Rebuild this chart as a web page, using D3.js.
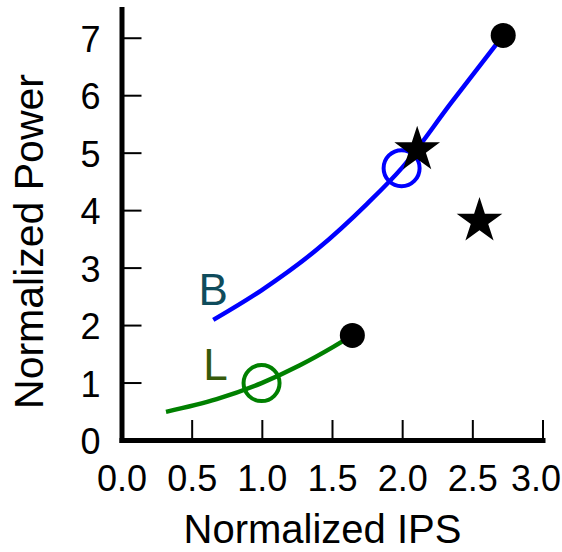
<!DOCTYPE html>
<meta charset="utf-8">
<style>
    body { margin: 0; background: #fff; }
    text { font-family: "Liberation Sans", Arial, Helvetica, sans-serif; }
    .axis .domain { stroke: #000; stroke-width: 5; stroke-linecap: square; }
    .axis .tick line { stroke: #000; stroke-width: 2; }
    .axis .tick text { font-size: 36px; fill: #000; }
</style>
<svg width="562" height="552"></svg>
<script src="https://cdnjs.cloudflare.com/ajax/libs/d3/7.8.5/d3.min.js"></script>
<script>

    // big core curve (B)
    var bigIPS = [0.654, 1.0, 1.39, 1.75, 2.0, 2.35, 2.72];
    var bigPower = [2.09, 2.61, 3.31, 4.11, 4.74, 5.87, 7.04];

    // little core curve (L)
    var littleIPS = [0.317, 0.678, 0.998, 1.271, 1.509, 1.645];
    var littlePower = [0.49, 0.71, 0.99, 1.30, 1.62, 1.82];

    // markers
    var openIPS = [1.996, 0.998];
    var openPower = [4.73, 0.99];
    var openColor = ["#0000ff", "#008000"];

    var dotIPS = [2.72, 1.645];
    var dotPower = [7.04, 1.82];

    var starIPS = [2.107, 2.551];
    var starPower = [5.05, 3.81];

    var labelText = ["B", "L"];
    var labelIPS = [0.548, 0.583];
    var labelPower = [2.35, 1.045];
    var labelColor = ["#0f4c5c", "#365a0a"];

    var xTicks = [0, 0.5, 1, 1.5, 2, 2.5, 3];
    var yTicks = [0, 1, 2, 3, 4, 5, 6, 7];

    var svg = d3.select("svg");

    var x = d3.scaleLinear()
        .domain([0, 3])
        .range([121.5, 542.5]);

    var y = d3.scaleLinear()
        .domain([0, 7.5])
        .range([440, 9]);

    svg.append("g")
        .attr("class", "axis")
        .attr("transform", "translate(0,440)")
        .call(d3.axisBottom(x)
            .tickValues(xTicks)
            .tickFormat(d3.format(".1f"))
            .tickSizeInner(-20)
            .tickSizeOuter(0)
            .tickPadding(25))
        .selectAll(".tick text")
        .attr("dx", function (d) { return d === 3 ? -7 : 0; });

    svg.append("g")
        .attr("class", "axis")
        .attr("transform", "translate(121.5,0)")
        .call(d3.axisLeft(y)
            .tickValues(yTicks)
            .tickFormat(d3.format("d"))
            .tickSizeInner(-20)
            .tickSizeOuter(0)
            .tickPadding(21))
        .selectAll(".tick text")
        .attr("dy", "0.38em");

    svg.append("text")
        .attr("x", 322.5)
        .attr("y", 543)
        .attr("text-anchor", "middle")
        .attr("font-size", "40px")
        .text("Normalized IPS");

    svg.append("text")
        .attr("transform", "translate(43,241.5) rotate(-90)")
        .attr("text-anchor", "middle")
        .attr("font-size", "41px")
        .text("Normalized Power");

    var line = d3.line()
        .x(function (d) { return x(d[0]); })
        .y(function (d) { return y(d[1]); })
        .curve(d3.curveMonotoneX);

    svg.append("path")
        .datum(d3.zip(bigIPS, bigPower))
        .attr("fill", "none")
        .attr("stroke", "#0000ff")
        .attr("stroke-width", 4.5)
        .attr("d", line);

    svg.append("path")
        .datum(d3.zip(littleIPS, littlePower))
        .attr("fill", "none")
        .attr("stroke", "#008000")
        .attr("stroke-width", 4.5)
        .attr("d", line);

    svg.selectAll(".open")
        .data(d3.range(openIPS.length))
        .enter().append("circle")
        .attr("class", "open")
        .attr("cx", function (i) { return x(openIPS[i]); })
        .attr("cy", function (i) { return y(openPower[i]); })
        .attr("r", 18)
        .attr("fill", "none")
        .attr("stroke", function (i) { return openColor[i]; })
        .attr("stroke-width", 4);

    svg.selectAll(".dot")
        .data(d3.zip(dotIPS, dotPower))
        .enter().append("circle")
        .attr("class", "dot")
        .attr("cx", function (d) { return x(d[0]); })
        .attr("cy", function (d) { return y(d[1]); })
        .attr("r", 12.5)
        .attr("fill", "#000");

    svg.selectAll(".star")
        .data(d3.zip(starIPS, starPower))
        .enter().append("path")
        .attr("class", "star")
        .attr("transform", function (d) { return "translate(" + x(d[0]) + "," + y(d[1]) + ")"; })
        .attr("d", d3.symbol(d3.symbolStar, 647))
        .attr("fill", "#000");

    svg.selectAll(".label")
        .data(d3.range(labelText.length))
        .enter().append("text")
        .attr("class", "label")
        .attr("x", function (i) { return x(labelIPS[i]); })
        .attr("y", function (i) { return y(labelPower[i]); })
        .attr("font-size", "44px")
        .attr("fill", function (i) { return labelColor[i]; })
        .text(function (i) { return labelText[i]; });

</script>
